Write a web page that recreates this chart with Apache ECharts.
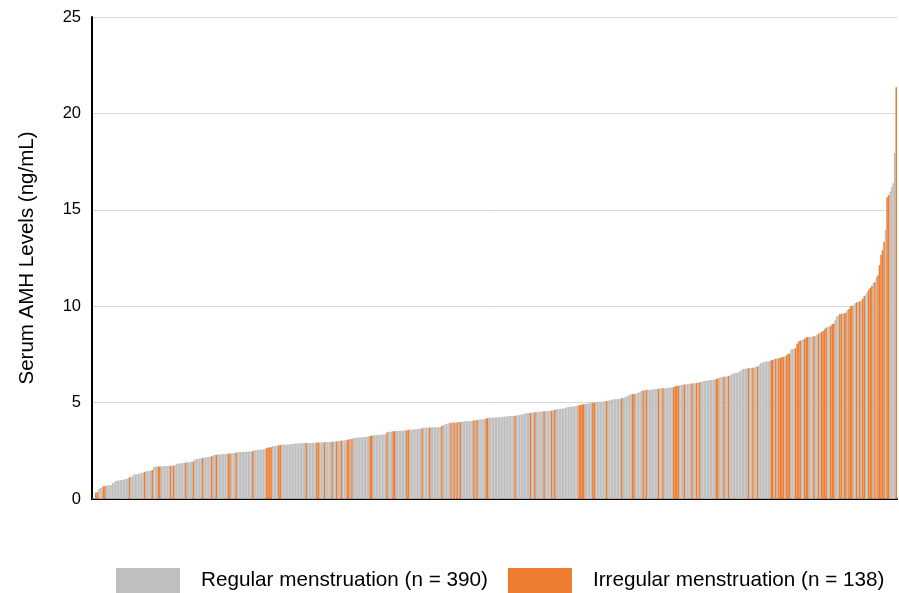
<!DOCTYPE html>
<html>
<head>
<meta charset="utf-8">
<script src="https://cdn.jsdelivr.net/npm/echarts@6/dist/echarts.min.js"></script>
<style>
  html, body { margin: 0; padding: 0; background: #ffffff; }
  #chart { width: 899px; height: 593px; }
</style>
</head>
<body>
<div id="chart"></div>
<script>
// Serum AMH level of each participant, sorted ascending (ng/mL)
const amhLevels = [
  0.02,0.05,0.32,0.36,0.52,0.56,0.60,0.66,0.68,0.70,0.71,0.72,0.73,0.84,0.86,0.93,0.95,0.96,0.97,0.98,
  1.00,1.02,1.04,1.05,1.12,1.16,1.18,1.27,1.28,1.30,1.31,1.33,1.35,1.37,1.40,1.44,1.45,1.46,1.47,1.50,
  1.66,1.67,1.68,1.68,1.69,1.69,1.70,1.70,1.71,1.71,1.72,1.72,1.73,1.74,1.75,1.82,1.84,1.85,1.86,1.87,
  1.88,1.89,1.90,1.91,1.92,1.93,1.95,2.05,2.07,2.08,2.09,2.10,2.12,2.15,2.16,2.17,2.18,2.19,2.22,2.26,
  2.28,2.30,2.31,2.32,2.32,2.33,2.33,2.34,2.35,2.36,2.36,2.37,2.38,2.39,2.41,2.42,2.43,2.43,2.44,2.44,
  2.45,2.45,2.46,2.46,2.47,2.49,2.52,2.53,2.54,2.55,2.56,2.57,2.58,2.60,2.64,2.66,2.68,2.69,2.74,2.75,
  2.76,2.77,2.79,2.80,2.81,2.82,2.82,2.83,2.83,2.84,2.85,2.86,2.87,2.88,2.88,2.89,2.89,2.89,2.90,2.90,
  2.90,2.90,2.91,2.91,2.91,2.92,2.92,2.93,2.93,2.93,2.94,2.94,2.94,2.95,2.95,2.96,2.96,2.97,2.98,2.98,
  2.99,3.00,3.01,3.03,3.03,3.04,3.05,3.08,3.09,3.10,3.11,3.16,3.17,3.18,3.19,3.19,3.20,3.20,3.21,3.22,
  3.23,3.24,3.27,3.28,3.30,3.31,3.31,3.32,3.32,3.33,3.34,3.35,3.36,3.45,3.48,3.49,3.50,3.51,3.52,3.53,
  3.53,3.54,3.54,3.55,3.55,3.56,3.57,3.58,3.60,3.60,3.61,3.61,3.62,3.63,3.64,3.65,3.66,3.70,3.70,3.70,
  3.71,3.71,3.71,3.72,3.72,3.72,3.73,3.73,3.74,3.78,3.84,3.86,3.88,3.92,3.95,3.96,3.96,3.97,3.97,3.98,
  3.98,3.99,4.01,4.02,4.03,4.03,4.04,4.04,4.05,4.06,4.07,4.08,4.10,4.12,4.12,4.13,4.14,4.15,4.18,4.19,
  4.21,4.21,4.22,4.22,4.23,4.23,4.24,4.24,4.25,4.26,4.27,4.28,4.29,4.30,4.30,4.31,4.31,4.32,4.33,4.34,
  4.36,4.38,4.40,4.42,4.44,4.45,4.46,4.47,4.48,4.49,4.50,4.52,4.53,4.53,4.54,4.54,4.55,4.55,4.56,4.56,
  4.57,4.58,4.60,4.63,4.65,4.66,4.67,4.68,4.69,4.70,4.72,4.76,4.77,4.78,4.79,4.80,4.81,4.82,4.84,4.86,
  4.88,4.90,4.91,4.93,4.95,4.96,4.97,4.98,4.99,5.00,5.02,5.03,5.04,5.04,5.05,5.06,5.07,5.08,5.10,5.12,
  5.14,5.16,5.17,5.18,5.18,5.19,5.20,5.22,5.25,5.28,5.32,5.36,5.40,5.42,5.44,5.45,5.46,5.48,5.52,5.56,
  5.60,5.63,5.64,5.65,5.66,5.66,5.67,5.68,5.69,5.70,5.71,5.72,5.73,5.74,5.74,5.75,5.75,5.76,5.77,5.78,
  5.79,5.80,5.84,5.86,5.87,5.90,5.92,5.93,5.94,5.95,5.96,5.97,5.98,5.99,6.00,6.01,6.02,6.03,6.05,6.07,
  6.10,6.12,6.13,6.14,6.15,6.16,6.17,6.18,6.20,6.22,6.25,6.30,6.32,6.33,6.34,6.35,6.36,6.38,6.42,6.46,
  6.52,6.53,6.54,6.56,6.60,6.66,6.72,6.75,6.76,6.77,6.78,6.79,6.80,6.81,6.82,6.84,6.87,6.92,7.05,7.08,
  7.10,7.12,7.13,7.14,7.15,7.20,7.22,7.25,7.27,7.28,7.30,7.33,7.35,7.37,7.39,7.45,7.52,7.55,7.75,7.78,
  7.80,7.82,8.05,8.18,8.22,8.24,8.27,8.32,8.38,8.40,8.41,8.42,8.43,8.44,8.46,8.50,8.58,8.62,8.66,8.72,
  8.80,8.88,8.92,8.95,8.98,9.08,9.10,9.30,9.47,9.50,9.58,9.60,9.62,9.63,9.66,9.80,9.86,9.98,10.02,10.05,
  10.15,10.20,10.22,10.25,10.30,10.40,10.52,10.60,10.75,10.85,10.95,11.05,11.20,11.26,11.50,11.60,12.13,12.65,12.90,13.34,
  13.95,15.65,15.77,15.95,16.20,16.38,17.94,21.36
];

// Positions (in the sorted order above) of participants with irregular menstruation
const irregularRanks = [
  2,3,7,8,24,34,39,43,44,51,53,61,66,72,78,81,89,90,94,105,
  114,115,116,117,122,123,140,147,148,152,157,160,163,167,168,170,182,183,193,197,
  198,206,207,216,221,229,235,237,239,241,250,252,258,259,277,287,290,296,301,303,
  319,320,321,322,328,329,337,347,354,355,361,363,371,374,381,382,383,384,388,393,
  396,398,409,410,414,417,430,433,436,445,446,448,450,451,452,453,455,456,457,461,
  462,463,464,467,468,469,473,476,478,479,480,481,484,485,486,490,491,493,494,496,
  497,498,501,503,505,506,509,510,511,513,515,516,517,518,519,521,522,527
];

const yTicks = [0, 5, 10, 15, 20, 25];
const groupNames = ['Regular menstruation (n = 390)', 'Irregular menstruation (n = 138)'];
const groupColors = ['#bfbfbf', '#ed7d31'];

const irregularSet = new Set(irregularRanks);
const categories = amhLevels.map((_, i) => String(i + 1));
const regularData = amhLevels.map((v, i) => (irregularSet.has(i) ? '-' : v));
const irregularData = amhLevels.map((v, i) => (irregularSet.has(i) ? v : '-'));

const chart = echarts.init(document.getElementById('chart'), null, { renderer: 'canvas' });

const font = '"Liberation Sans", Arial, Helvetica, sans-serif';

chart.setOption({
  animation: false,
  backgroundColor: '#ffffff',
  textStyle: { fontFamily: font },
  grid: { left: 92, right: 2, top: 17, bottom: 94, containLabel: false },
  legend: {
    left: 116,
    top: 568,
    padding: 0,
    itemWidth: 64,
    itemHeight: 25,
    itemGap: 20,
    icon: 'rect',
    textStyle: { fontSize: 20.7, color: '#000000', fontFamily: font, padding: [5, 0, 0, 16] },
    data: groupNames
  },
  xAxis: {
    type: 'category',
    data: categories,
    boundaryGap: true,
    axisLine: { show: true, lineStyle: { color: '#000000', width: 2 } },
    axisTick: { show: false },
    axisLabel: { show: false },
    splitLine: { show: false }
  },
  yAxis: {
    type: 'value',
    min: yTicks[0],
    max: yTicks[yTicks.length - 1],
    interval: yTicks[1] - yTicks[0],
    name: 'Serum AMH Levels (ng/mL)',
    nameLocation: 'middle',
    nameGap: 54,
    nameRotate: 90,
    nameTextStyle: { fontSize: 20.5, color: '#000000', fontFamily: font },
    axisLine: { show: true, lineStyle: { color: '#000000', width: 2 } },
    axisTick: { show: false },
    axisLabel: { fontSize: 16.5, color: '#000000', margin: 11, fontFamily: font },
    splitLine: { show: true, lineStyle: { color: '#d9d9d9', width: 1 } }
  },
  series: [
    {
      name: groupNames[0],
      type: 'bar',
      data: regularData,
      barCategoryGap: 0,
      barGap: '-100%',
      itemStyle: { color: groupColors[0] }
    },
    {
      name: groupNames[1],
      type: 'bar',
      data: irregularData,
      barCategoryGap: 0,
      barGap: '-100%',
      itemStyle: { color: groupColors[1] }
    }
  ]
});
</script>
</body>
</html>
